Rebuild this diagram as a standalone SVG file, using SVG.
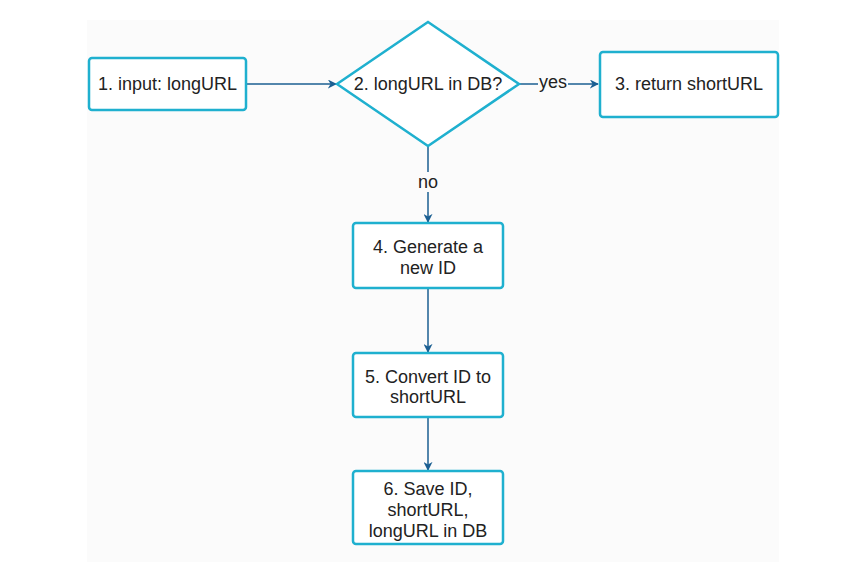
<svg xmlns="http://www.w3.org/2000/svg" width="868" height="562" viewBox="0 0 868 562">
<style>
.node{fill:#ffffff;stroke:#1fb0cf;stroke-width:2.5}
.t{font-family:"Liberation Sans",Arial,sans-serif;font-size:18px;fill:#222222;text-anchor:middle}
.c{stroke:#1b5f92;stroke-width:1.5;fill:none}
</style>
<defs>
<marker id="ah" viewBox="0 0 10 10" refX="9" refY="5" markerWidth="9" markerHeight="9" markerUnits="userSpaceOnUse" orient="auto">
<path d="M0,0 L10,5 L0,10 L3,5 Z" fill="#1b5f92"/>
</marker>
</defs>
<rect width="868" height="562" fill="#ffffff"/>
<rect x="87" y="20" width="692" height="542" fill="#fbfbfb"/>
<g id="connectors">
<line class="c" x1="246" y1="84" x2="336" y2="84" marker-end="url(#ah)"/>
<line class="c" x1="519" y1="84" x2="598" y2="84" marker-end="url(#ah)"/>
<line class="c" x1="428" y1="146" x2="428" y2="222" marker-end="url(#ah)"/>
<line class="c" x1="428" y1="288" x2="428" y2="352" marker-end="url(#ah)"/>
<line class="c" x1="428" y1="417" x2="428" y2="470" marker-end="url(#ah)"/>
<rect x="538" y="74" width="30" height="14" fill="#fbfbfb"/>
<text class="t" x="553" y="88">yes</text>
<rect x="416" y="172" width="24" height="20" fill="#fbfbfb"/>
<text class="t" x="428" y="188">no</text>
</g>
<g id="n1">
<rect class="node" x="89" y="58" width="157" height="52" rx="3"/>
<text class="t" x="167.5" y="90">1. input: longURL</text>
</g>
<g id="n2">
<polygon class="node" points="428,22 519,84 428,146 337,84"/>
<text class="t" x="428" y="90">2. longURL in DB?</text>
</g>
<g id="n3">
<rect class="node" x="600" y="52" width="178" height="65" rx="3"/>
<text class="t" x="689" y="90">3. return shortURL</text>
</g>
<g id="n4">
<rect class="node" x="353" y="223" width="150" height="65" rx="3"/>
<text class="t" x="428" y="253">4. Generate a</text>
<text class="t" x="428" y="274">new ID</text>
</g>
<g id="n5">
<rect class="node" x="353" y="353" width="150" height="64" rx="3"/>
<text class="t" x="428" y="383">5. Convert ID to</text>
<text class="t" x="428" y="403">shortURL</text>
</g>
<g id="n6">
<rect class="node" x="353" y="471" width="150" height="73" rx="3"/>
<text class="t" x="428" y="495">6. Save ID,</text>
<text class="t" x="428" y="516">shortURL,</text>
<text class="t" x="428" y="537">longURL in DB</text>
</g>
</svg>
